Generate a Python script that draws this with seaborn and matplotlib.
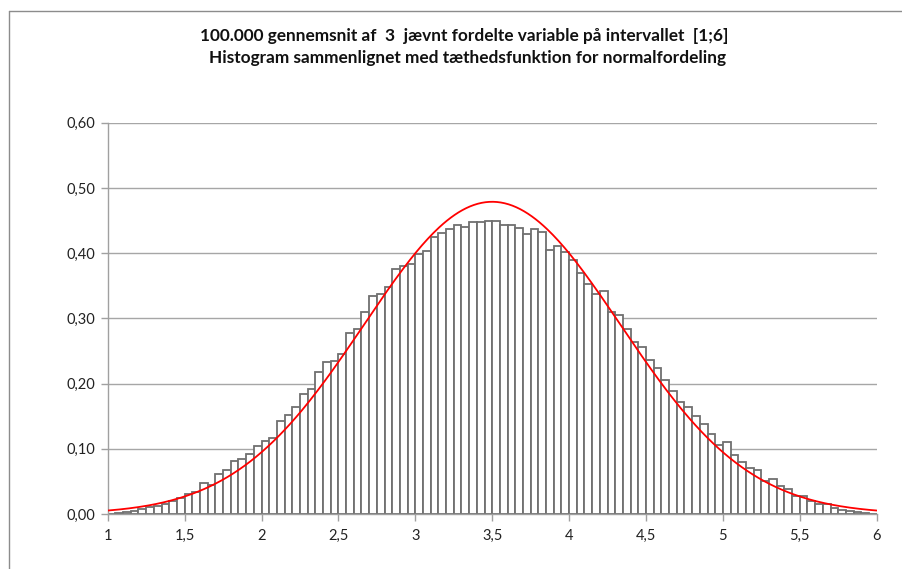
import numpy as np
import pandas as pd
import seaborn as sns
import matplotlib
matplotlib.use("Agg")
import matplotlib.pyplot as plt
from matplotlib.lines import Line2D
from matplotlib.ticker import FixedLocator

# Histogram of 100 000 means of 3 uniform variables on [1;6], 100 bins of width 0.05
bin_lo, bin_hi, n_bins = 1.0, 6.0, 100
density = [
    0.0005, 0.0015, 0.0026, 0.005, 0.007, 0.010, 0.013, 0.016, 0.020, 0.025,
    0.031, 0.034, 0.048, 0.045, 0.061, 0.067, 0.082, 0.085, 0.092, 0.104,
    0.112, 0.117, 0.142, 0.152, 0.164, 0.184, 0.191, 0.218, 0.233, 0.235,
    0.246, 0.277, 0.283, 0.310, 0.335, 0.338, 0.348, 0.376, 0.381, 0.384,
    0.398, 0.404, 0.424, 0.431, 0.437, 0.443, 0.440, 0.448, 0.448, 0.449,
    0.449, 0.443, 0.443, 0.438, 0.430, 0.437, 0.432, 0.405, 0.411, 0.401,
    0.389, 0.369, 0.352, 0.338, 0.342, 0.310, 0.305, 0.284, 0.264, 0.256,
    0.236, 0.224, 0.206, 0.189, 0.171, 0.164, 0.150, 0.138, 0.122, 0.106,
    0.111, 0.091, 0.080, 0.071, 0.067, 0.051, 0.053, 0.043, 0.038, 0.028,
    0.027, 0.020, 0.015, 0.015, 0.009, 0.006, 0.004, 0.003, 0.0015, 0.0005,
]

# Normal density with the same mean and standard deviation
mu = 3.5
sigma = 5.0 / 6.0

x_ticks = [1, 1.5, 2, 2.5, 3, 3.5, 4, 4.5, 5, 5.5, 6]
x_tick_labels = ["1", "1,5", "2", "2,5", "3", "3,5", "4", "4,5", "5", "5,5", "6"]
y_ticks = [0.0, 0.1, 0.2, 0.3, 0.4, 0.5, 0.6]
y_tick_labels = ["0,00", "0,10", "0,20", "0,30", "0,40", "0,50", "0,60"]

title_lines = [
    "100.000 gennemsnit af  3  jævnt fordelte variable på intervallet  [1;6]",
    "Histogram sammenlignet med tæthedsfunktion for normalfordeling",
]

width = (bin_hi - bin_lo) / n_bins
centers = [bin_lo + width * (i + 0.5) for i in range(n_bins)]
hist_df = pd.DataFrame({"x": centers, "h": density})
xs = np.linspace(bin_lo, bin_hi, 400)
curve_df = pd.DataFrame({
    "x": xs,
    "y": np.exp(-0.5 * ((xs - mu) / sigma) ** 2) / (sigma * np.sqrt(2 * np.pi)),
})

sns.set_theme(style="white")
plt.rcParams["font.family"] = ["Lato", "DejaVu Sans"]

W, H = 903, 569
fig = plt.figure(figsize=(W / 100, H / 100), dpi=100)
ax = fig.add_axes([107.7 / W, 1 - 514 / H, (876.7 - 107.7) / W, (514 - 122.7) / H])

sns.histplot(data=hist_df, x="x", weights="h", bins=n_bins,
             binrange=(bin_lo, bin_hi), stat="count",
             color="white", edgecolor="#707070", linewidth=1.3, alpha=1.0,
             ax=ax, zorder=2)
sns.lineplot(data=curve_df, x="x", y="y", color="#ff0000", linewidth=1.3,
             ax=ax, zorder=3)

ax.set_xlim(bin_lo, bin_hi)
ax.set_ylim(0, 0.6)
ax.xaxis.set_major_locator(FixedLocator(x_ticks))
ax.set_xticklabels(x_tick_labels)
ax.yaxis.set_major_locator(FixedLocator(y_ticks))
ax.set_yticklabels(y_tick_labels)
ax.set_xlabel("")
ax.set_ylabel("")

ax.grid(axis="y", color="#a6a6a6", linewidth=1.0)
ax.set_axisbelow(True)
for side in ("top", "right"):
    ax.spines[side].set_visible(False)
for side in ("left", "bottom"):
    ax.spines[side].set_color("#a0a0a0")
    ax.spines[side].set_linewidth(1.0)

ax.tick_params(axis="both", which="major", direction="out", length=5, width=1.0,
               color="#a0a0a0", labelsize=10.5, labelcolor="#222222")
ax.tick_params(axis="x", pad=6, bottom=True)
ax.tick_params(axis="y", pad=4, left=True)

# Chart frame (left and top edges)
fig.add_artist(Line2D([8.5 / W, 8.5 / W], [0, 1 - 11 / H], transform=fig.transFigure,
                      color="#8c8c8c", linewidth=1.0))
fig.add_artist(Line2D([8.5 / W, 1], [1 - 11 / H, 1 - 11 / H], transform=fig.transFigure,
                      color="#8c8c8c", linewidth=1.0))

fig.text(464 / W, 1 - 36 / H, title_lines[0], ha="center", va="center",
         fontsize=12.4, fontweight="bold", color="#111111")
fig.text(468 / W, 1 - 58 / H, title_lines[1], ha="center", va="center",
         fontsize=12.4, fontweight="bold", color="#111111")

fig.savefig("out.png", dpi=100)
